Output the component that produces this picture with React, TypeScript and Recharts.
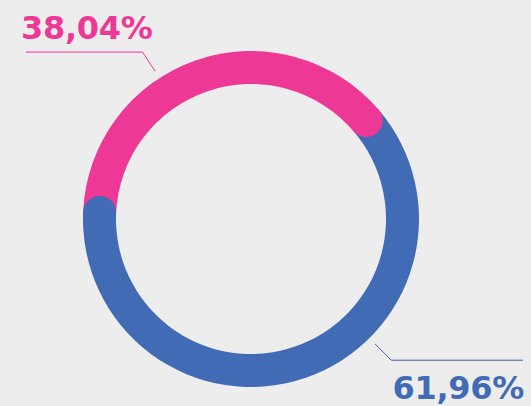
import { PieChart, Pie, Cell } from "recharts";

const categories = ["A", "B"];
const shares = [38.04, 61.96];
const colors = ["#ee3896", "#416cb5"];
const lineColors = ["#ee3896", "#3f62a6"];

const data = categories.map((name, i) => ({ name, value: shares[i] }));

const RAD = Math.PI / 180;
const fmt = (v: number) => v.toFixed(2).replace(".", ",") + "%";

// where each leader line leaves the ring, and where its flat part ends
const labelLayout = [
  { angle: 123, lineEnd: 26, textX: 21, textY: 39, anchor: "start" },
  { angle: -45.2, lineEnd: 523, textX: 524, textY: 399, anchor: "end" },
];

function RingLabel(props: any) {
  const { cx, cy, innerRadius, outerRadius, endAngle, index, value } = props;
  const mid = (innerRadius + outerRadius) / 2;
  const capR = (outerRadius - innerRadius) / 2;
  const capX = cx + mid * Math.cos(endAngle * RAD);
  const capY = cy - mid * Math.sin(endAngle * RAD);
  const l = labelLayout[index];
  const a = l.angle * RAD;
  const x1 = cx + (outerRadius + 8) * Math.cos(a);
  const y1 = cy - (outerRadius + 8) * Math.sin(a);
  const x2 = cx + (outerRadius + 31) * Math.cos(a);
  const y2 = cy - (outerRadius + 31) * Math.sin(a);
  return (
    <g>
      <circle cx={capX} cy={capY} r={capR} fill={colors[index]} />
      <polyline
        points={`${x1},${y1} ${x2},${y2} ${l.lineEnd},${y2}`}
        fill="none"
        stroke={lineColors[index]}
        strokeWidth={1}
      />
      <text
        x={l.textX}
        y={l.textY}
        textAnchor={l.anchor}
        fill={colors[index]}
        fontFamily="DejaVu Sans"
        fontWeight="bold"
        fontStyle="normal"
        fontSize={32}
        letterSpacing={-0.3}
      >
        {fmt(value)}
      </text>
    </g>
  );
}

export default function App() {
  return (
    <div style={{ position: "absolute", left: 0, top: 0, width: 531, height: 406, background: "#ededed" }}>
      <PieChart width={531} height={406} margin={{ top: 0, right: 0, bottom: 0, left: 0 }}>
        <Pie
          data={data}
          dataKey="value"
          nameKey="name"
          cx={251}
          cy={219}
          innerRadius={135}
          outerRadius={168}
          startAngle={177.5}
          endAngle={177.5 - 360}
          stroke="none"
          label={RingLabel}
          labelLine={false}
          isAnimationActive={false}
        >
          {data.map((d, i) => (
            <Cell key={d.name} fill={colors[i]} />
          ))}
        </Pie>
      </PieChart>
    </div>
  );
}
